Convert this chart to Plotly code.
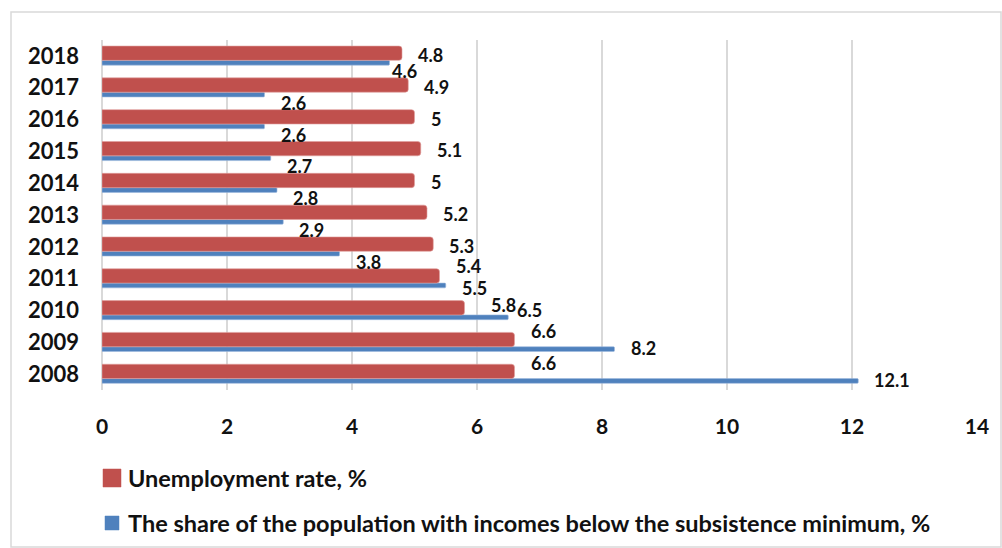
import plotly.graph_objects as go

years = ["2008", "2009", "2010", "2011", "2012", "2013", "2014", "2015", "2016", "2017", "2018"]
unemployment = [6.6, 6.6, 5.8, 5.4, 5.3, 5.2, 5.0, 5.1, 5.0, 4.9, 4.8]
poverty = [12.1, 8.2, 6.5, 5.5, 3.8, 2.9, 2.8, 2.7, 2.6, 2.6, 4.6]
series_names = ["Unemployment rate, %",
                "The share of the population with incomes below the subsistence minimum, %"]
x_ticks = [0, 2, 4, 6, 8, 10, 12, 14]

RED = "#C0504D"
BLUE = "#4F81BD"
GRID = "#D9D9D9"
FONT = "Lato"

W, H = 1002, 548
ML, MR, MT, MB = 102, 25, 40, 158
PW, PH = W - ML - MR, H - MT - MB


def px_x(p):
    return (p - ML) / PW


def px_y(p):
    return (H - MB - p) / PH


fig = go.Figure()
fig.add_trace(go.Bar(
    y=years, x=poverty, orientation="h", name=series_names[1],
    marker=dict(color=BLUE, line=dict(color="#9DB9DD", width=0.6), cornerradius=1),
    width=0.15, offset=-0.29, showlegend=False, hoverinfo="x+y",
))
fig.add_trace(go.Bar(
    y=years, x=unemployment, orientation="h", name=series_names[0],
    marker=dict(color=RED, line=dict(color="#E0A09E", width=0.6), cornerradius=3),
    width=0.45, offset=-0.14, showlegend=False, hoverinfo="x+y",
))


def label_layout(u, p):
    """Return (red_xshift, red_yshift, blue_xshift, blue_yshift) in pixels."""
    gap = p - u
    if gap > 1.0:
        return 14, 11, 14, -6
    if gap > 0.3:
        return 24, 5, 7, 0
    if gap > 0:
        return 14, 13, 14, -9
    if gap > -0.4:
        return 14, 1, 0, -15
    return 14, 1, 14, -15


LABEL_FONT = dict(family=FONT, size=18, color="#111111", weight="bold")
annotations = []
for i, (u, p) in enumerate(zip(unemployment, poverty)):
    rx, ry, bx, by = label_layout(u, p)
    annotations.append(dict(
        x=u, y=i, xref="x", yref="y", text=f"{u:g}", showarrow=False,
        xanchor="left", yanchor="middle", xshift=rx, yshift=ry, font=LABEL_FONT,
    ))
    annotations.append(dict(
        x=p, y=i, xref="x", yref="y", text=f"{p:g}", showarrow=False,
        xanchor="left", yanchor="middle", xshift=bx, yshift=by, font=LABEL_FONT,
    ))

# manual legend
legend_colors = [RED, BLUE]
legend_boxes = [(103, 469, 121, 487), (105, 516, 119, 530)]
legend_text_y = [478, 523]
shapes = []
for col, (x0, y0, x1, y1), ty, name in zip(legend_colors, legend_boxes, legend_text_y, series_names):
    shapes.append(dict(type="rect", xref="paper", yref="paper",
                       x0=px_x(x0), x1=px_x(x1), y0=px_y(y0), y1=px_y(y1),
                       fillcolor=col, line=dict(color=col, width=0.5), layer="above"))
    annotations.append(dict(
        x=px_x(126), y=px_y(ty), xref="paper", yref="paper", text=name,
        showarrow=False, xanchor="left", yanchor="middle",
        font=dict(family=FONT, size=23.5, color="#111111", weight="bold"),
    ))

# outer frame
shapes.append(dict(type="rect", xref="paper", yref="paper",
                   x0=px_x(11), x1=px_x(1001), y0=px_y(547), y1=px_y(12),
                   line=dict(color=GRID, width=1.5), layer="below"))

fig.update_layout(
    width=W, height=H,
    margin=dict(l=ML, r=MR, t=MT, b=MB, autoexpand=False),
    paper_bgcolor="white", plot_bgcolor="white",
    barmode="overlay",
    annotations=annotations, shapes=shapes,
    showlegend=False,
    xaxis=dict(range=[0, 14], tickvals=x_ticks, showgrid=True, gridcolor=GRID, gridwidth=1.5,
               zeroline=True, zerolinecolor=GRID, zerolinewidth=1.5, showline=False,
               ticks="", ticklabelstandoff=22,
               tickfont=dict(family=FONT, size=21, color="#111111", weight="bold")),
    yaxis=dict(type="category", categoryorder="array", categoryarray=years,
               range=[-0.5, 10.5], showgrid=False, zeroline=False, showline=False, ticks="",
               ticklabelstandoff=22,
               tickfont=dict(family=FONT, size=22, color="#111111", weight="bold")),
)

fig.write_html("out.html", post_script="document.body.style.margin='0';",
               config={"displayModeBar": False})
